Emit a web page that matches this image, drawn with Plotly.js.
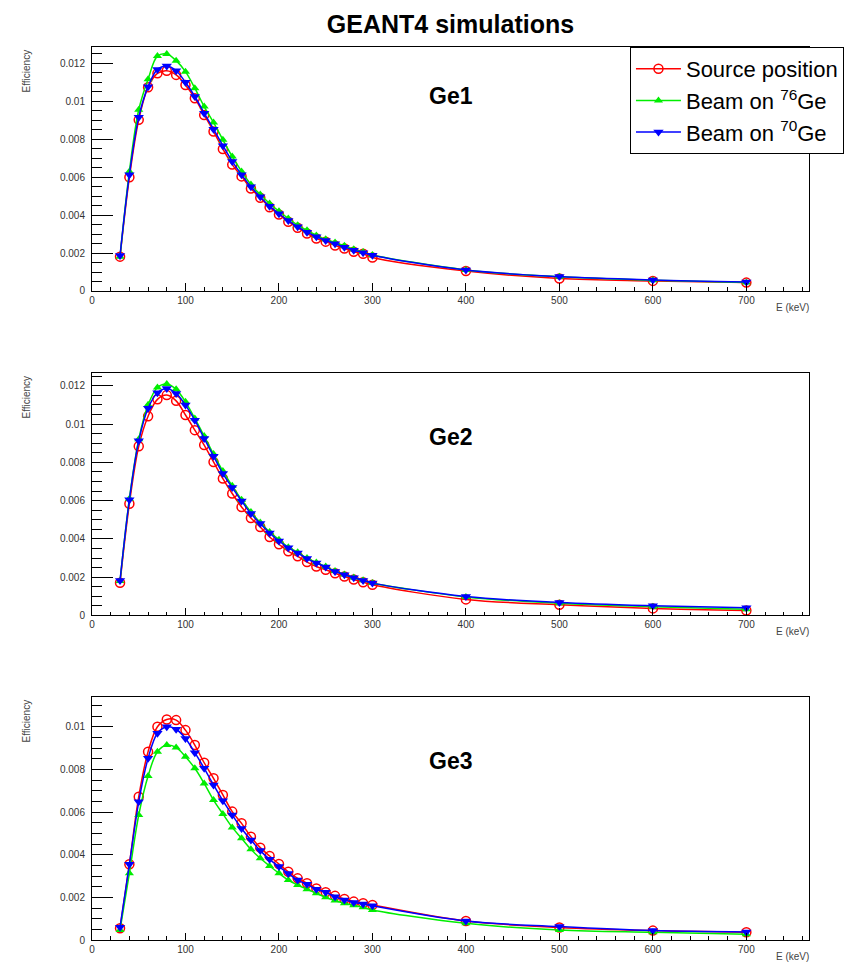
<!DOCTYPE html>
<html>
<head>
<meta charset="utf-8">
<script src="https://cdn.plot.ly/plotly-3.0.1.min.js"></script>
<style>html,body{margin:0;padding:0;background:#fff;}#chart{width:849px;height:967px;}</style>
</head>
<body>
<div id="chart"></div>
<script>
// Energies (keV)
const energy = [30,40,50,60,70,80,90,100,110,120,130,140,150,160,170,180,190,200,210,220,230,240,250,260,270,280,290,300,400,500,600,700];

// Ge1
const ge1Source = [0.00181,0.00599,0.00902,0.01074,0.01147,0.01161,0.01139,0.01086,0.01016,0.00928,0.00841,0.00748,0.00666,0.00604,0.0054,0.00491,0.00441,0.00403,0.00365,0.00333,0.00303,0.00277,0.0026,0.0024,0.00224,0.00207,0.00196,0.00176,0.00105,0.00066,0.00053,0.00044];
const ge1Beam76 = [0.0018,0.0063,0.00955,0.01116,0.01238,0.01249,0.01214,0.01156,0.01069,0.00972,0.00888,0.00797,0.00709,0.0063,0.00561,0.00508,0.00461,0.0042,0.00382,0.00347,0.0032,0.00293,0.00272,0.00255,0.00238,0.0022,0.00205,0.0019,0.00111,0.00075,0.00057,0.00045];
const ge1Beam70 = [0.00187,0.00613,0.00916,0.01077,0.01168,0.01186,0.01161,0.011,0.01025,0.00937,0.00853,0.00766,0.00683,0.00613,0.00549,0.00496,0.00447,0.00407,0.00371,0.00338,0.0031,0.00286,0.00266,0.00249,0.00231,0.00215,0.00202,0.00188,0.0011,0.00076,0.00058,0.00047];

// Ge2
const ge2Source = [0.00171,0.00584,0.00884,0.01041,0.01129,0.01151,0.01121,0.01047,0.00968,0.0089,0.00802,0.00715,0.00637,0.00567,0.00509,0.00462,0.0041,0.00372,0.00335,0.00309,0.00279,0.00256,0.00239,0.00221,0.00204,0.00188,0.00174,0.0016,0.00084,0.00056,0.00037,0.00026];
const ge2Beam76 = [0.0018,0.0061,0.0092,0.011,0.01191,0.01209,0.01181,0.01116,0.01029,0.00937,0.00843,0.00754,0.00677,0.00605,0.00541,0.00485,0.00436,0.00396,0.00357,0.0033,0.003,0.00277,0.00256,0.00232,0.00214,0.00198,0.00184,0.0017,0.00097,0.00064,0.00046,0.00032];
const ge2Beam70 = [0.00183,0.00605,0.00912,0.01082,0.01163,0.01186,0.0116,0.01099,0.0102,0.00925,0.00832,0.00741,0.00668,0.00598,0.00532,0.0048,0.00431,0.00389,0.00354,0.00326,0.00297,0.00274,0.00253,0.0023,0.00213,0.00197,0.00183,0.00169,0.00099,0.00068,0.00051,0.0004];

// Ge3
const ge3Source = [0.00055,0.00355,0.00672,0.00883,0.01,0.01034,0.01031,0.00984,0.00914,0.00831,0.00758,0.0068,0.00602,0.00547,0.00484,0.00433,0.00394,0.00356,0.0032,0.00289,0.00266,0.00242,0.00224,0.00207,0.00192,0.0018,0.00172,0.00164,0.00089,0.00059,0.00044,0.00036];
const ge3Beam76 = [0.00047,0.00313,0.00586,0.00769,0.00883,0.00914,0.00903,0.00859,0.00805,0.00734,0.00656,0.00591,0.00528,0.00477,0.00425,0.00383,0.00347,0.00313,0.00281,0.00258,0.00238,0.00219,0.002,0.00185,0.00172,0.00163,0.00153,0.00141,0.00078,0.00047,0.00036,0.00027];
const ge3Beam70 = [0.0006,0.00355,0.00648,0.00852,0.00969,0.01,0.00988,0.00945,0.00878,0.00805,0.00727,0.00653,0.00586,0.00523,0.00469,0.00419,0.00378,0.00344,0.00312,0.00281,0.00261,0.00238,0.00224,0.00203,0.00188,0.00176,0.00169,0.0016,0.00089,0.00063,0.00044,0.00038];

const seriesNames = ['Source position', 'Beam on <sup>76</sup>Ge', 'Beam on <sup>70</sup>Ge'];
const panelLabels = ['Ge1', 'Ge2', 'Ge3'];
const xTickVals = [0,100,200,300,400,500,600,700];
const xTickText = ['0','100','200','300','400','500','600','700'];
const yTickVals = [0,0.002,0.004,0.006,0.008,0.01,0.012];
const yTickText = ['0','0.002','0.004','0.006','0.008','0.01','0.012'];

const panels = [
  [ge1Source, ge1Beam76, ge1Beam70],
  [ge2Source, ge2Beam76, ge2Beam70],
  [ge3Source, ge3Beam76, ge3Beam70]
];
const styles = [
  {color:'#ff0000', marker:{symbol:'circle-open', size:9, color:'#ff0000', line:{width:1.5, color:'#ff0000'}}},
  {color:'#00ee00', marker:{symbol:'triangle-up', size:8, color:'#00ee00', line:{width:0}}},
  {color:'#0000ff', marker:{symbol:'triangle-down', size:9, color:'#0000ff', line:{width:0}}}
];
const domains = [[0.7268,1],[0.3634,0.6349],[0,0.2721]];
const yMax = [0.01286, 0.012663, 0.011392];
const labelY = [0.0103, 0.0093, 0.0084];

const FONT = 'Liberation Sans, Arial, Helvetica, sans-serif';
const traces = [];
panels.forEach((p, i) => {
  const ax = i === 0 ? '' : String(i+1);
  p.forEach((vals, j) => {
    traces.push({
      x: energy, y: vals, type:'scatter', mode:'lines+markers',
      name: seriesNames[j], showlegend: i === 0,
      xaxis: 'x'+ax, yaxis: 'y'+ax,
      line: {color: styles[j].color, width: 1.5, shape:'spline', smoothing: 1},
      marker: styles[j].marker
    });
  });
});

const layout = {
  width: 849, height: 967,
  margin: {l:92, r:40, t:47, b:27, pad:0, autoexpand:false},
  paper_bgcolor:'#fff', plot_bgcolor:'#fff',
  font: {family: FONT, color:'#000'},
  title: {text:'<b>GEANT4 simulations</b>', font:{family:FONT, size:25, color:'#000'},
          xref:'container', x:0.5306, xanchor:'center', yref:'container', y:0.9745, yanchor:'middle'},
  showlegend: true,
  legend: {x:0.7503, xanchor:'left', y:1.0, yanchor:'top', xref:'paper', yref:'paper',
           bgcolor:'#fff', bordercolor:'#000', borderwidth:1,
           font:{family:FONT, size:22, color:'#000'}, itemwidth:45, tracegroupgap:0},
  annotations: []
};

for (let i = 0; i < 3; i++) {
  const ax = i === 0 ? '' : String(i+1);
  layout['xaxis'+ax] = {
    domain:[0,1], anchor:'y'+ax, range:[0,767],
    showline:true, linecolor:'#000', linewidth:1, mirror:true,
    showgrid:false, zeroline:false,
    tickmode:'array', tickvals:xTickVals, ticktext:xTickText,
    ticks:'inside', ticklen:7.5, tickwidth:1, tickcolor:'#000',
    minor:{ticks:'inside', ticklen:3.7, tickwidth:1, tickcolor:'#000', tickmode:'linear', tick0:0, dtick:20, showgrid:false},
    tickfont:{family:FONT, size:10, color:'#333'}
  };
  layout['yaxis'+ax] = {
    domain:domains[i], anchor:'x'+ax, range:[0, yMax[i]],
    showline:true, linecolor:'#000', linewidth:1, mirror:true,
    showgrid:false, zeroline:false,
    tickmode:'array', tickvals:yTickVals, ticktext:yTickText,
    ticks:'inside', ticklen:21, tickwidth:1, tickcolor:'#000',
    minor:{ticks:'inside', ticklen:10, tickwidth:1, tickcolor:'#000', tickmode:'linear', tick0:0, dtick:0.0005, showgrid:false},
    tickfont:{family:FONT, size:10, color:'#333'}, ticklabelstandoff:4
  };
  layout.annotations.push({
    text:'<b>'+panelLabels[i]+'</b>', xref:'x'+ax, yref:'y'+ax, x:384, y:labelY[i],
    showarrow:false, font:{family:FONT, size:23, color:'#000'}, xanchor:'center', yanchor:'middle'
  });
  layout.annotations.push({
    text:'Efficiency', xref:'paper', yref:'y'+ax+' domain', x:-0.0907, y:1, textangle:-90,
    showarrow:false, font:{family:FONT, size:10, color:'#444'}, xanchor:'center', yanchor:'top'
  });
  layout.annotations.push({
    text:'E (keV)', xref:'x'+ax+' domain', yref:'y'+ax+' domain', x:1.003, y:-0.067,
    showarrow:false, font:{family:FONT, size:10, color:'#444'}, xanchor:'right', yanchor:'middle'
  });
}

Plotly.newPlot('chart', traces, layout, {staticPlot:true, displayModeBar:false});
</script>
</body>
</html>
